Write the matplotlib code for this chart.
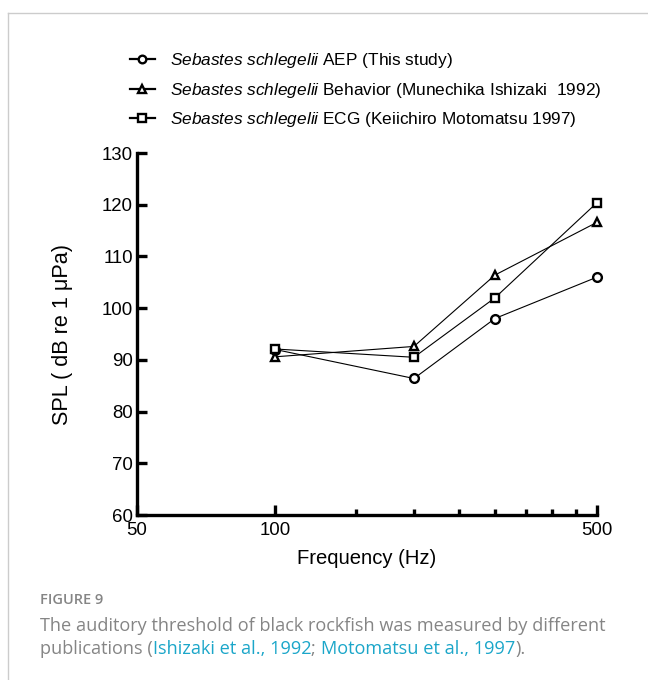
import matplotlib
matplotlib.use('Agg')
from matplotlib import pyplot as plt
from matplotlib.lines import Line2D
from matplotlib.ticker import NullFormatter

plt.rcParams['font.family'] = ['Liberation Sans', 'DejaVu Sans']
plt.rcParams['mathtext.fontset'] = 'custom'
plt.rcParams['mathtext.rm'] = 'Liberation Sans'
plt.rcParams['mathtext.it'] = 'Liberation Sans:italic'

# auditory thresholds of black rockfish
freq = [100, 200, 300, 500]
aep = [92.0, 86.4, 98.0, 106.0]
behavior = [90.6, 92.6, 106.4, 116.6]
ecg = [92.1, 90.5, 102.0, 120.4]

labels = [r'$\it{Sebastes\ schlegelii}$ AEP (This study)',
          r'$\it{Sebastes\ schlegelii}$ Behavior (Munechika Ishizaki  1992)',
          r'$\it{Sebastes\ schlegelii}$ ECG (Keiichiro Motomatsu 1997)']
markers = ['o', '^', 's']

yticks = [60, 70, 80, 90, 100, 110, 120, 130]
xticks = [50, 100, 500]
xminor = [150, 200, 250, 300, 350, 400, 450]

fig = plt.figure(figsize=(6.48, 6.80), dpi=100)
ax = fig.add_axes([0.2114, 0.2426, 0.7099, 0.5324])

for vals, m, lab in zip([aep, behavior, ecg], markers, labels):
    ax.plot(freq, vals, color='black', lw=0.8, marker=m, ms=6.3, mew=1.7,
            mfc='white', mec='black', label=lab, clip_on=False)

ax.set_xscale('log')
ax.set_xlim(50, 500)
ax.set_ylim(60, 130)
ax.set_xticks(xticks)
ax.set_xticklabels([str(t) for t in xticks])
ax.set_xticks(xminor, minor=True)
ax.xaxis.set_minor_formatter(NullFormatter())
ax.set_yticks(yticks)

for s in ['top', 'right']:
    ax.spines[s].set_visible(False)
for s in ['left', 'bottom']:
    ax.spines[s].set_linewidth(2.4)

ax.tick_params(axis='both', which='major', direction='in', length=7, width=2.4,
               labelsize=13.4)
ax.tick_params(axis='x', which='major', pad=5)
ax.tick_params(axis='x', which='minor', direction='in', length=4, width=2.4)
ax.tick_params(axis='y', pad=3)

ax.set_xlabel('Frequency (Hz)', fontsize=14.6)
ax.set_ylabel('SPL ( dB re 1 μPa)', fontsize=15.6)
ax.yaxis.label.set_va('center')
ax.xaxis.label.set_va('center')
ax.yaxis.set_label_coords(-0.163, 0.5)
ax.xaxis.set_label_coords(0.5, -0.119)

leg = fig.legend(loc='upper left', bbox_to_anchor=(0.176, 0.948), frameon=False,
                 fontsize=12.4, handlelength=1.45, handletextpad=0.9,
                 labelspacing=0.62)
for h in leg.legend_handles:
    h.set_linewidth(1.6)
    h.set_markersize(5.5)

# light frame round the figure panel
fig.add_artist(Line2D([8 / 648, 1], [1 - 13 / 680] * 2, color='#cccccc', lw=1))
fig.add_artist(Line2D([8 / 648] * 2, [0, 1 - 13 / 680], color='#cccccc', lw=1))

# caption
grey = '#858585'
blue = '#1ba6c9'
fig.text(40 / 648, 1 - 600 / 680, 'FIGURE 9', color=grey, fontsize=10.5,
         family='Open Sans', weight='semibold', va='center')
fig.text(40 / 648, 1 - 626 / 680,
         'The auditory threshold of black rockfish was measured by different',
         color=grey, fontsize=13.1, family='Open Sans', va='center')
parts = [('publications (', grey), ('Ishizaki et al., 1992', blue), ('; ', grey),
         ('Motomatsu et al., 1997', blue), (').', grey)]
prev = fig.text(40 / 648, 1 - 649 / 680, parts[0][0], color=parts[0][1],
                fontsize=13.1, family='Open Sans', va='center')
for txt, col in parts[1:]:
    prev = ax.annotate(txt, xy=(1, 0), xycoords=prev, va='bottom', ha='left',
                       color=col, fontsize=13.1, family='Open Sans',
                       annotation_clip=False)

fig.savefig('out.png', dpi=100)
